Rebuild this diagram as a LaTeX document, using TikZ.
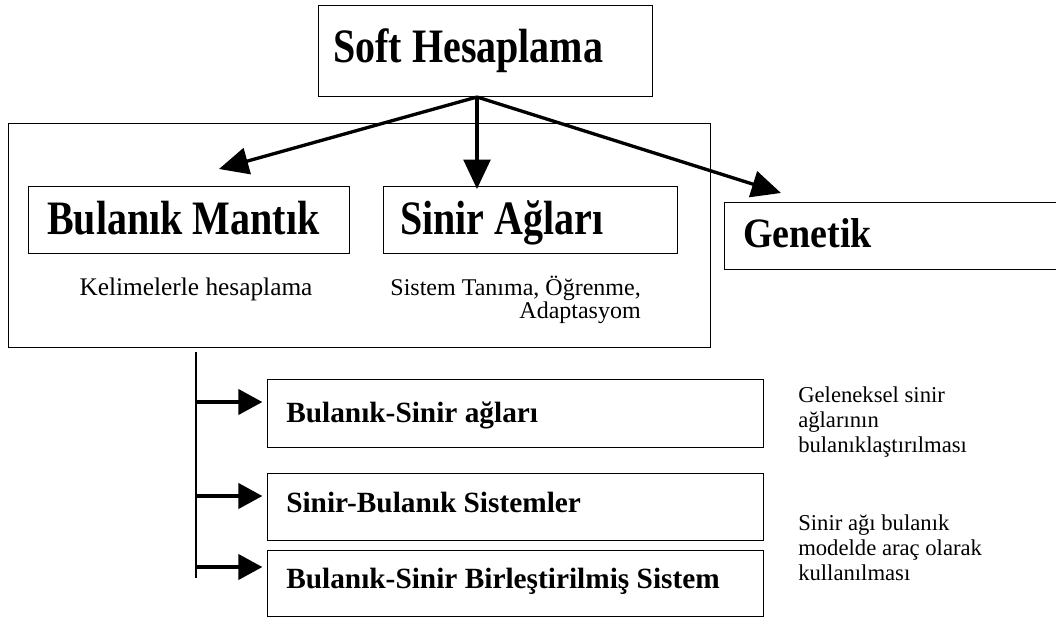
\documentclass[tikz,border=0pt]{standalone}
\usepackage{fontspec}
\setmainfont{Liberation Serif}
\usetikzlibrary{arrows.meta}
\newcommand\vstretchA[1]{\scalebox{1}[1.2]{#1}}
\newcommand\vstretchB[1]{\scalebox{1}[1.1]{#1}}
\begin{document}
\begin{tikzpicture}[x=0.75pt,y=-0.75pt,
  box/.style={draw, line width=1.1pt, inner sep=0pt, anchor=north west},
  bigtext/.style={font=\fontsize{30}{36}\selectfont\bfseries, inner sep=0pt},
  gentext/.style={font=\fontsize{28.5}{34}\selectfont\bfseries, inner sep=0pt},
  subtext/.style={font=\fontsize{22}{26}\selectfont\bfseries, inner sep=0pt},
  midtext/.style={font=\fontsize{18}{17.25}\selectfont, inner sep=0pt},
  note/.style={font=\fontsize{17}{18.75}\selectfont, inner sep=0pt},
  arr/.style={line width=2.5pt, -{Triangle[length=22pt,width=20pt]}},
  subarr/.style={line width=2.4pt, -{Triangle[length=18pt,width=19pt]}},
  vline/.style={line width=1.5pt}]
\clip (0,0) rectangle (1056,618);
% boxes
\node[box, minimum width=250.5pt, minimum height=68.25pt] (soft) at (318,5) {};
\node[box, minimum width=526.5pt, minimum height=168pt] (big) at (8,123) {};
\node[box, minimum width=240.75pt, minimum height=50.25pt] (bm) at (28,186) {};
\node[box, minimum width=220.5pt, minimum height=50.25pt] (sa) at (383,186) {};
\node[box, minimum width=253.5pt, minimum height=50.25pt] (gen) at (724,202) {};
\node[box, minimum width=372pt, minimum height=51pt] (s1) at (267,379) {};
\node[box, minimum width=372pt, minimum height=50.25pt] (s2) at (267,473) {};
\node[box, minimum width=372pt, minimum height=49.5pt] (s3) at (267,550) {};
% texts
\node[bigtext, anchor=base west] (softT) at (333,62) {\vstretchA{Soft Hesaplama}};
\node[bigtext, anchor=base west] (bmT) at (47,234) {\vstretchA{Bulanık Mantık}};
\node[bigtext, anchor=base west] (saT) at (400,234) {\vstretchA{Sinir Ağları}};
\node[gentext, anchor=base west] (genT) at (743,247) {\vstretchB{Genetik}};
\node[midtext, font=\fontsize{19}{17.25}\selectfont, anchor=base] (kel) at (196,295) {Kelimelerle hesaplama};
\node[midtext, anchor=north east, align=right] (sis) at (641,276) {Sistem Tanıma, Öğrenme,\\Adaptasyom};
\node[subtext, anchor=base west] (s1T) at (286,422) {Bulanık-Sinir ağları};
\node[subtext, anchor=base west] (s2T) at (286,512) {Sinir-Bulanık Sistemler};
\node[subtext, anchor=base west] (s3T) at (286,588) {Bulanık-Sinir Birleştirilmiş Sistem};
\node[note, anchor=north west, align=left] (n1) at (798,386) {Geleneksel sinir\\ağlarının\\bulanıklaştırılması};
\node[note, anchor=north west, align=left] (n2) at (798,514) {Sinir ağı bulanık\\modelde araç olarak\\kullanılması};
% top arrows
\coordinate (o) at (477,97);
\coordinate (tL) at (219,169);
\coordinate (tM) at (477,189);
\coordinate (tR) at (781,193);
\draw[arr] (o) -- (tL);
\draw[arr] (o) -- (tM);
\draw[arr] (o) -- (tR);
% sub arrows
\coordinate (vt) at (196,352);
\coordinate (vb) at (196,578);
\draw[vline] (vt) -- (vb);
\coordinate (b1) at (196,402);
\coordinate (b2) at (196,496);
\coordinate (b3) at (196,567);
\draw[subarr, shorten >=3.5pt] (b1) -- (b1 -| s1.west);
\draw[subarr, shorten >=3.5pt] (b2) -- (b2 -| s2.west);
\draw[subarr, shorten >=3.5pt] (b3) -- (b3 -| s3.west);
\end{tikzpicture}
\end{document}
